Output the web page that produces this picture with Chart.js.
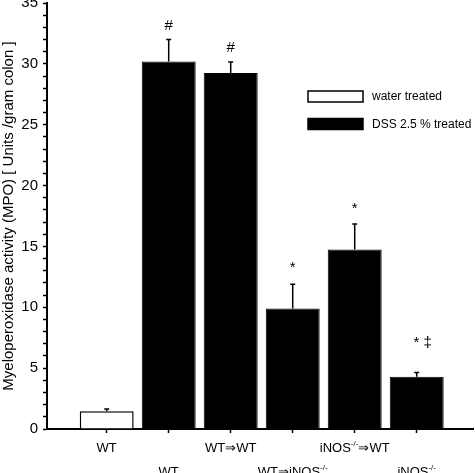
<!DOCTYPE html>
<html lang="en">
<head>
<meta charset="UTF-8">
<title>MPO activity</title>
<script src="https://cdn.jsdelivr.net/npm/chart.js@4.4.0/dist/chart.umd.min.js"></script>
<style>
    html, body { margin: 0; padding: 0; background: #fff; }
</style>
</head>
<body>
<canvas id="chart" width="475" height="473"></canvas>

<script>
    // data
    const groups = ['WT', 'WT', 'WT⇒WT', 'WT⇒iNOS^{-/-}', 'iNOS^{-/-}⇒WT', 'iNOS^{-/-}'];
    const waterValues = [1.45, null, null, null, null, null];
    const dssValues = [null, 30.2, 29.25, 9.9, 14.75, 4.3];
    const errors = [0.2, 1.8, 0.9, 2.0, 2.1, 0.35];
    const marks = ['', '#', '#', '*', '*', '* ‡'];
    const seriesNames = ['water treated', 'DSS 2.5 % treated'];
    const yTitle = 'Myeloperoxidase activity (MPO) [ Units /gram colon ]';
    const yMax = 35;
    const yLabelStep = 5;

    const FONT = "'Liberation Sans', Arial, sans-serif";

    function toPoints(values) {
        const pts = [];
        values.forEach((v, i) => { if (v !== null) pts.push({x: i + 1, y: v}); });
        return pts;
    }

    // error bars + significance marks
    const errorBars = {
        id: 'errorBars',
        afterDatasetsDraw(chart, args, opts) {
            const ctx = chart.ctx;
            const xs = chart.scales.x, ys = chart.scales.y;
            ctx.save();
            ctx.strokeStyle = '#000';
            ctx.fillStyle = '#000';
            ctx.lineWidth = 1.5;
            groups.forEach((g, i) => {
                const v = waterValues[i] !== null ? waterValues[i] : dssValues[i];
                const x = xs.getPixelForValue(i + 1);
                const y0 = ys.getPixelForValue(v);
                const y1 = ys.getPixelForValue(v + errors[i]);
                ctx.beginPath();
                ctx.moveTo(x, y0);
                ctx.lineTo(x, y1);
                ctx.moveTo(x - 2.5, y1);
                ctx.lineTo(x + 2.5, y1);
                ctx.stroke();
                if (marks[i]) {
                    ctx.font = '15px ' + FONT;
                    ctx.textAlign = 'center';
                    ctx.textBaseline = 'alphabetic';
                    ctx.fillText(marks[i], x + (marks[i].length > 1 ? 6 : 0), y1 - opts.gap[i]);
                }
            });
            ctx.restore();
        }
    };

    // category labels in two staggered rows, with superscripts
    const groupLabels = {
        id: 'groupLabels',
        afterDraw(chart) {
            const ctx = chart.ctx;
            const xs = chart.scales.x;
            const area = chart.chartArea;
            ctx.save();
            ctx.fillStyle = '#000';
            ctx.textBaseline = 'middle';
            ctx.textAlign = 'left';
            groups.forEach((g, i) => {
                const parts = g.split(/\^\{(.*?)\}/);
                const segs = parts.map((t, k) => ({t: t, sup: k % 2 === 1})).filter(s => s.t);
                let w = 0;
                segs.forEach(s => {
                    ctx.font = (s.sup ? '8px ' : '13px ') + FONT;
                    s.w = ctx.measureText(s.t).width;
                    w += s.w;
                });
                let x = xs.getPixelForValue(i + 1) - w / 2;
                const y = area.bottom + (i % 2 === 0 ? 19 : 43);
                segs.forEach(s => {
                    ctx.font = (s.sup ? '8px ' : '13px ') + FONT;
                    ctx.fillText(s.t, x, s.sup ? y - 4 : y);
                    x += s.w;
                });
            });
            ctx.restore();
        }
    };

    const boxLegend = {
        id: 'boxLegend',
        afterDraw(chart) {
            const ctx = chart.ctx;
            ctx.save();
            ctx.font = '12px ' + FONT;
            ctx.textBaseline = 'middle';
            ctx.textAlign = 'left';
            chart.data.datasets.forEach((ds, i) => {
                const y = 91 + i * 27.5;
                ctx.fillStyle = ds.backgroundColor;
                ctx.fillRect(308, y, 55, 11);
                ctx.strokeStyle = '#000';
                ctx.lineWidth = 1.5;
                ctx.strokeRect(308, y, 55, 11);
                ctx.fillStyle = '#000';
                ctx.fillText(ds.label, 372, y + 6);
            });
            ctx.restore();
        }
    };

    const ctx = document.getElementById('chart').getContext('2d');
    const myChart = new Chart(ctx, {
        type: 'bar',
        data: {
            datasets: [{
                label: seriesNames[0],
                data: toPoints(waterValues),
                backgroundColor: '#ffffff',
                borderColor: '#000000',
                borderWidth: 1.5
            }, {
                label: seriesNames[1],
                data: toPoints(dssValues),
                backgroundColor: '#000000',
                borderColor: '#000000',
                borderWidth: 1
            }]
        },
        options: {
            responsive: false,
            animation: false,
            devicePixelRatio: 1,
            layout: { padding: { top: 0, right: 2, bottom: 0, left: 0 } },
            datasets: { bar: { barPercentage: 0.87, categoryPercentage: 1 } },
            plugins: {
                legend: { display: false },
                tooltip: { enabled: false },
                errorBars: { gap: [10, 10, 10, 12, 11, 25] }
            },
            scales: {
                x: {
                    type: 'linear',
                    stacked: true,
                    offset: false,
                    min: 0.037,
                    max: 6.908,
                    afterBuildTicks: s => { s.ticks = groups.map((g, i) => ({ value: i + 1 })); },
                    afterFit: s => { s.height = 44; },
                    ticks: { display: false },
                    grid: { offset: false, drawOnChartArea: false, tickLength: 4, color: '#000', tickWidth: 1.5 },
                    border: { color: '#000', width: 2 }
                },
                y: {
                    stacked: true,
                    min: 0,
                    max: yMax,
                    afterFit: s => { s.width = 47; s.paddingTop = 3; s.paddingBottom = 0; },
                    ticks: {
                        stepSize: 1,
                        autoSkip: false,
                        padding: 5,
                        color: '#000',
                        font: { family: FONT, size: 15 },
                        callback: v => (v % yLabelStep === 0 ? v : '')
                    },
                    grid: { drawOnChartArea: false, tickLength: 4, color: '#000', tickWidth: 1.5 },
                    border: { color: '#000', width: 2 },
                    title: {
                        display: true,
                        text: yTitle,
                        color: '#000',
                        font: { family: FONT, size: 15 },
                        padding: { top: 0, bottom: 0 }
                    }
                }
            }
        },
        plugins: [errorBars, groupLabels, boxLegend]
    });
</script>
</body>
</html>
